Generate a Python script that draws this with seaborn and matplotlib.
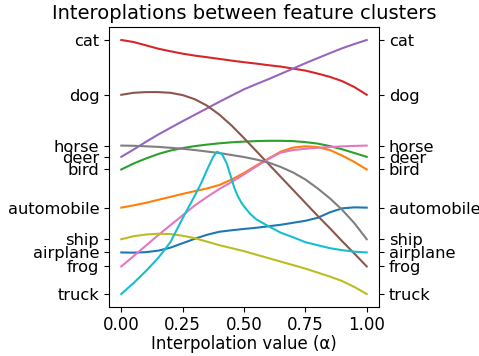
import numpy as np
import pandas as pd
import matplotlib
matplotlib.use("Agg")
import matplotlib.pyplot as plt
import seaborn as sns

# class names (cifar order) and where each cluster sits on the y axis
classes = ["airplane", "automobile", "bird", "cat", "deer",
           "dog", "frog", "horse", "ship", "truck"]
class_pos = [0.417, 0.867, 1.25, 2.55, 1.377, 2.00, 0.277, 1.49, 0.55, 0.0]

alpha = [0.0, 0.05, 0.1, 0.15, 0.2, 0.25, 0.3, 0.35, 0.4, 0.45, 0.5,
         0.55, 0.6, 0.65, 0.7, 0.75, 0.8, 0.85, 0.9, 0.95, 1.0]

# one curve per starting class (airplane -> automobile, ...)
airplane = [0.417, 0.415, 0.42, 0.435, 0.465, 0.51, 0.555, 0.595, 0.625, 0.64, 0.653,
            0.665, 0.68, 0.695, 0.715, 0.735, 0.765, 0.82, 0.86, 0.87, 0.867]
automobile = [0.867, 0.89, 0.915, 0.945, 0.975, 1.005, 1.033, 1.06, 1.095, 1.15, 1.215,
              1.29, 1.36, 1.43, 1.47, 1.483, 1.475, 1.445, 1.39, 1.325, 1.25]
bird = [1.25, 1.31, 1.36, 1.405, 1.44, 1.465, 1.485, 1.50, 1.513, 1.523, 1.53,
        1.535, 1.538, 1.538, 1.535, 1.525, 1.51, 1.485, 1.453, 1.415, 1.377]
cat = [2.55, 2.53, 2.497, 2.463, 2.437, 2.413, 2.393, 2.377, 2.36, 2.343, 2.327,
       2.313, 2.297, 2.283, 2.263, 2.243, 2.213, 2.18, 2.137, 2.077, 2.00]
deer = [1.377, 1.45, 1.527, 1.60, 1.668, 1.735, 1.80, 1.865, 1.93, 1.993, 2.055,
        2.107, 2.157, 2.21, 2.263, 2.317, 2.368, 2.418, 2.467, 2.51, 2.55]
dog = [2.00, 2.02, 2.027, 2.027, 2.02, 1.997, 1.955, 1.89, 1.80, 1.69, 1.565,
       1.435, 1.305, 1.175, 1.045, 0.915, 0.785, 0.66, 0.53, 0.405, 0.277]
frog = [0.277, 0.38, 0.485, 0.59, 0.69, 0.79, 0.89, 0.975, 1.055, 1.125, 1.20,
        1.28, 1.355, 1.42, 1.445, 1.458, 1.468, 1.476, 1.482, 1.487, 1.49]
horse = [1.49, 1.488, 1.483, 1.477, 1.468, 1.458, 1.445, 1.43, 1.415, 1.395, 1.375,
         1.35, 1.32, 1.275, 1.22, 1.15, 1.06, 0.96, 0.845, 0.71, 0.55]
ship = [0.55, 0.58, 0.597, 0.605, 0.602, 0.585, 0.56, 0.525, 0.49, 0.46, 0.43,
        0.395, 0.36, 0.325, 0.29, 0.255, 0.215, 0.175, 0.13, 0.07, 0.0]

# truck curve has a sharp peak so it gets its own finer alpha grid
alpha_truck = [0.0, 0.05, 0.1, 0.15, 0.2, 0.25, 0.3, 0.325, 0.35, 0.375, 0.39,
               0.41, 0.43, 0.445, 0.46, 0.475, 0.49, 0.5, 0.525, 0.55, 0.6,
               0.65, 0.7, 0.75, 0.8, 0.85, 0.9, 0.95, 1.0]
truck = [0.0, 0.11, 0.23, 0.36, 0.52, 0.76, 0.99, 1.11, 1.25, 1.38, 1.428,
         1.405, 1.31, 1.19, 1.07, 0.98, 0.915, 0.88, 0.805, 0.75, 0.68,
         0.615, 0.57, 0.52, 0.49, 0.46, 0.44, 0.425, 0.417]

curves = {"airplane": airplane, "automobile": automobile, "bird": bird,
          "cat": cat, "deer": deer, "dog": dog, "frog": frog,
          "horse": horse, "ship": ship}

frames = [pd.DataFrame({"alpha": alpha, "value": v, "start": k}) for k, v in curves.items()]
frames.append(pd.DataFrame({"alpha": alpha_truck, "value": truck, "start": "truck"}))
df = pd.concat(frames, ignore_index=True)

fig = plt.figure(figsize=(4.79, 3.56), dpi=100)
ax = fig.add_axes([0.2276, 0.1385, 0.5636, 0.7848])

sns.lineplot(data=df, x="alpha", y="value", hue="start", hue_order=classes,
             palette="tab10", legend=False, ax=ax, linewidth=1.5)

ax.set_yticks(class_pos)
ax.set_yticklabels(classes)
ax.tick_params(axis="y", right=True, labelright=True, labelsize=11.7)
ax.tick_params(axis="x", labelsize=12)
ax.set_xticks([0.0, 0.25, 0.5, 0.75, 1.0])
ax.set_xlabel("Interpolation value (α)", fontsize=12, labelpad=0.5)
ax.set_ylabel("")
ax.set_title("Interoplations between feature clusters", fontsize=14)

fig.savefig("out.png", dpi=100)
